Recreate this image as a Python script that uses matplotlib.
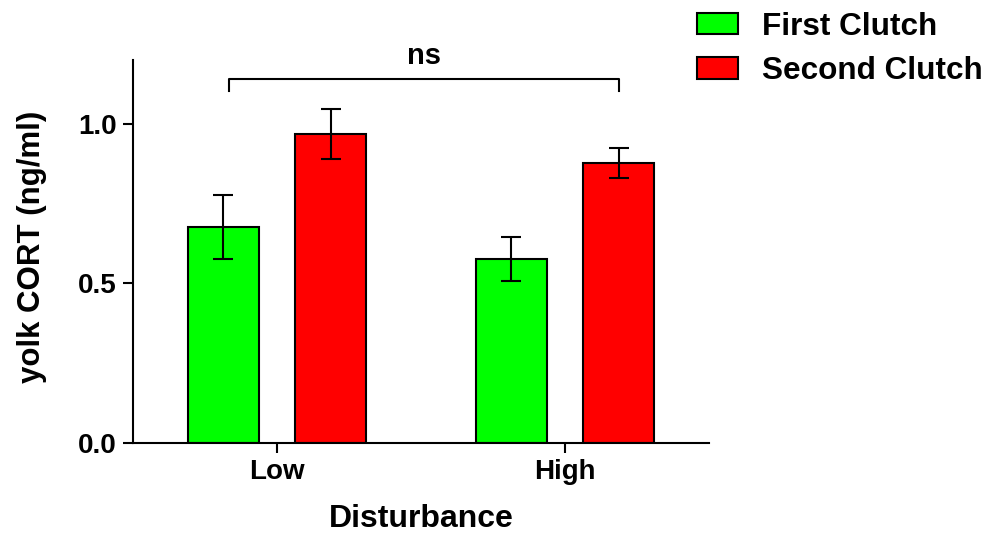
import numpy as np
import matplotlib
matplotlib.use("Agg")
import matplotlib.pyplot as plt

plt.rcParams['font.family'] = ['Liberation Sans', 'DejaVu Sans']
plt.rcParams['font.weight'] = 'bold'

groups = ["Low", "High"]
series = ["First Clutch", "Second Clutch"]
colores = ["#00FF00", "#FF0000"]
first_mean = [0.678, 0.576]
first_err = [0.100, 0.069]
second_mean = [0.968, 0.877]
second_err = [0.077, 0.047]

fig = plt.figure(figsize=(9.9, 5.33), dpi=100)
ax = fig.add_axes([0.1343, 0.1689, 0.5818, 0.7185])

x = np.arange(len(groups))
offset = 0.187
ancho = 0.247
medias = [first_mean, second_mean]
errores = [first_err, second_err]
for i in range(2):
    pos = x + (i * 2 - 1) * offset
    ax.bar(pos, medias[i], width=ancho, color=colores[i], edgecolor="black",
           linewidth=1.5, label=series[i], zorder=2)
    ax.errorbar(pos, medias[i], yerr=errores[i], fmt="none", ecolor="black",
                elinewidth=1.5, capsize=7, capthick=1.5, zorder=3)

ax.set_xlim(-0.5, 1.5)
ax.set_ylim(0, 1.2)
ax.set_xticks(x)
ax.set_xticklabels(groups, fontsize=20, fontweight="bold")
ax.set_yticks([0.0, 0.5, 1.0])
ax.set_yticklabels(["0.0", "0.5", "1.0"], fontsize=20, fontweight="bold")
ax.tick_params(axis="both", direction="out", length=7.5, width=1.5, pad=4)
ax.spines["top"].set_visible(False)
ax.spines["right"].set_visible(False)
ax.spines["left"].set_linewidth(1.5)
ax.spines["bottom"].set_linewidth(1.5)
ax.set_xlabel("Disturbance", fontsize=23, fontweight="bold", labelpad=14)
ax.set_ylabel("yolk CORT (ng/ml)", fontsize=22.5, fontweight="bold")
ax.yaxis.set_label_coords(-0.149, 0.512)

# bracket ns
bx = [-0.165, -0.165, 1.187, 1.187]
by = [1.103, 1.141, 1.141, 1.103]
ax.plot(bx, by, color="black", linewidth=1.5, clip_on=False)
ax.text(0.51, 1.212, "ns", ha="center", va="center", fontsize=21,
        fontweight="bold", clip_on=False)

fig.legend(loc="upper left", bbox_to_anchor=(0.691, 1.002), frameon=False,
           prop={"size": 22.7, "weight": "bold"}, handlelength=1.3,
           handleheight=0.67, handletextpad=0.76, labelspacing=0.46,
           borderaxespad=0)

fig.savefig("out.png", dpi=100)
